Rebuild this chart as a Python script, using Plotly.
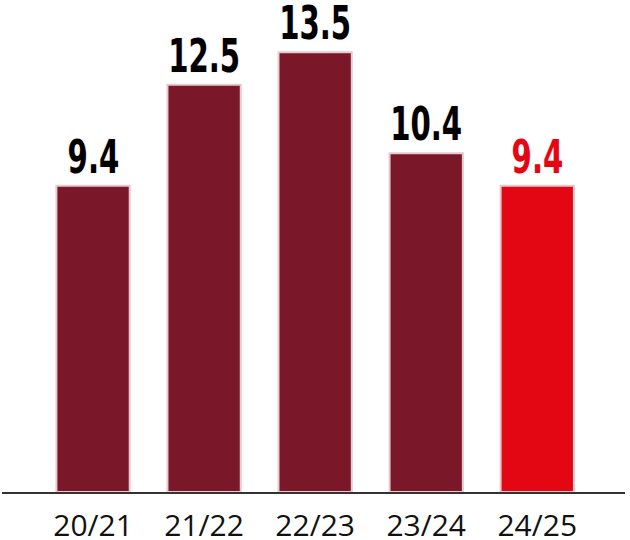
import plotly.graph_objects as go

seasons = ["20/21", "21/22", "22/23", "23/24", "24/25"]
values = [9.4, 12.5, 13.5, 10.4, 9.4]
bar_colors = ["#7a1829", "#7a1829", "#7a1829", "#7a1829", "#e30613"]
label_colors = ["#000000", "#000000", "#000000", "#000000", "#e30613"]

fig = go.Figure()
fig.add_trace(
    go.Bar(
        x=seasons,
        y=values,
        marker=dict(color=bar_colors, line=dict(color="#e8c9cd", width=2)),
        hoverinfo="skip",
    )
)

# value labels above the bars
for s, v, c in zip(seasons, values, label_colors):
    fig.add_annotation(
        x=s,
        y=v,
        text=f"{v:.1f}",
        showarrow=False,
        yanchor="bottom",
        yshift=0,
        font=dict(
            family="DejaVu Sans Condensed, DejaVu Sans, sans-serif",
            size=47,
            color=c,
            weight="bold",
            shadow="0 0 2px #f3dde0",
        ),
    )

fig.update_layout(
    width=630,
    height=540,
    margin=dict(l=2, r=5, t=0, b=48),
    paper_bgcolor="white",
    plot_bgcolor="white",
    bargap=0.34,
    showlegend=False,
    xaxis=dict(
        range=[-0.82, 4.79],
        showline=True,
        linecolor="#333333",
        linewidth=2,
        showgrid=False,
        ticks="",
        automargin=False,
        tickfont=dict(family="Open Sans, Noto Sans, sans-serif", size=30, color="#111111"),
        ticklabelstandoff=6,
    ),
    yaxis=dict(range=[0, 15.1], visible=False),
)

# no page margin, and narrow the value labels to a condensed look
js = """
document.body.style.margin = '0';
document.querySelectorAll('.annotation-text').forEach(function (t) {
  t.style.transformBox = 'fill-box';
  t.style.transformOrigin = 'center';
  t.style.transform = 'scaleX(0.69)';
});
"""
fig.write_html("out.html", post_script=js, config={"displayModeBar": False})
